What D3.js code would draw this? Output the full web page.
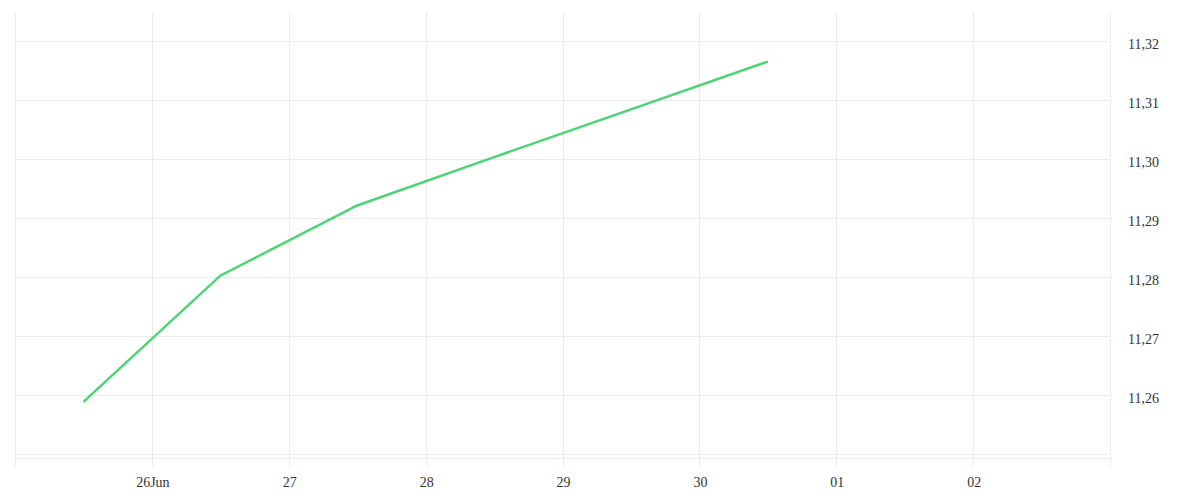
<!DOCTYPE html>
<html><head><meta charset="utf-8">
<script src="https://cdn.jsdelivr.net/npm/d3@7"></script>
<style>body{margin:0;background:#fff}svg text{font-family:"Liberation Serif","DejaVu Serif",serif;font-size:14px;fill:#333}</style>
</head><body>
<svg id="c" width="1200" height="500"></svg>
<script>
const dates = ["2025-06-25T12:00","2025-06-26T12:00","2025-06-27T12:00","2025-06-28T12:00","2025-06-29T12:00","2025-06-30T12:00"];
const values = [11.2588, 11.2802, 11.2921, 11.3003, 11.3084, 11.3165];
const yTicks = [11.25, 11.26, 11.27, 11.28, 11.29, 11.30, 11.31, 11.32];
const xTicks = ["2025-06-26T00:00","2025-06-27T00:00","2025-06-28T00:00","2025-06-29T00:00","2025-06-30T00:00","2025-07-01T00:00","2025-07-02T00:00"];
const xTickLabels = ["26Jun","27","28","29","30","01","02"];

(function(){
const parse = d3.timeParse("%Y-%m-%dT%H:%M");
const svg = d3.select("#c");
const pl = 15, pr = 1110, pt = 12, pb = 458;
const x = d3.scaleTime().domain([parse("2025-06-25T00:00"), parse("2025-07-03T00:00")]).range([pl, pr]);
const y = d3.scaleLinear().domain([11.2493, 11.3249]).range([pb, pt]);
const grid = "#ebebeb";

const vx = [x.domain()[0], ...xTicks.map(parse), x.domain()[1]];
svg.append("g").selectAll("line").data(vx).join("line")
  .attr("x1", d=>Math.round(x(d))+0.5).attr("x2", d=>Math.round(x(d))+0.5)
  .attr("y1", pt).attr("y2", 467).attr("stroke", grid).attr("stroke-width",1);

svg.append("g").selectAll("line").data(yTicks).join("line")
  .attr("x1", pl).attr("x2", pr)
  .attr("y1", d=>Math.round(y(d))+0.5).attr("y2", d=>Math.round(y(d))+0.5)
  .attr("stroke", grid).attr("stroke-width",1);
svg.append("line").attr("x1",pl).attr("x2",pr).attr("y1",pb+0.5).attr("y2",pb+0.5).attr("stroke",grid);

svg.append("g").selectAll("text").data(yTicks.filter(d=>d>=11.255)).join("text")
  .attr("x", 1128).attr("y", d=>y(d)+3).attr("dy","0.35em")
  .text(d=>d3.format(".2f")(d).replace(".",","));

svg.append("g").selectAll("text").data(xTicks).join("text")
  .attr("x", d=>x(parse(d))+1).attr("y", 487).attr("text-anchor","middle")
  .text((d,i)=>xTickLabels[i]);

const data = dates.map((d,i)=>({t:parse(d), v:values[i]}));
svg.append("path").datum(data)
  .attr("fill","none").attr("stroke","#4cd474").attr("stroke-width",2.5)
  .attr("d", d3.line().x(d=>x(d.t)).y(d=>y(d.v)));
})();
</script>
</body></html>
